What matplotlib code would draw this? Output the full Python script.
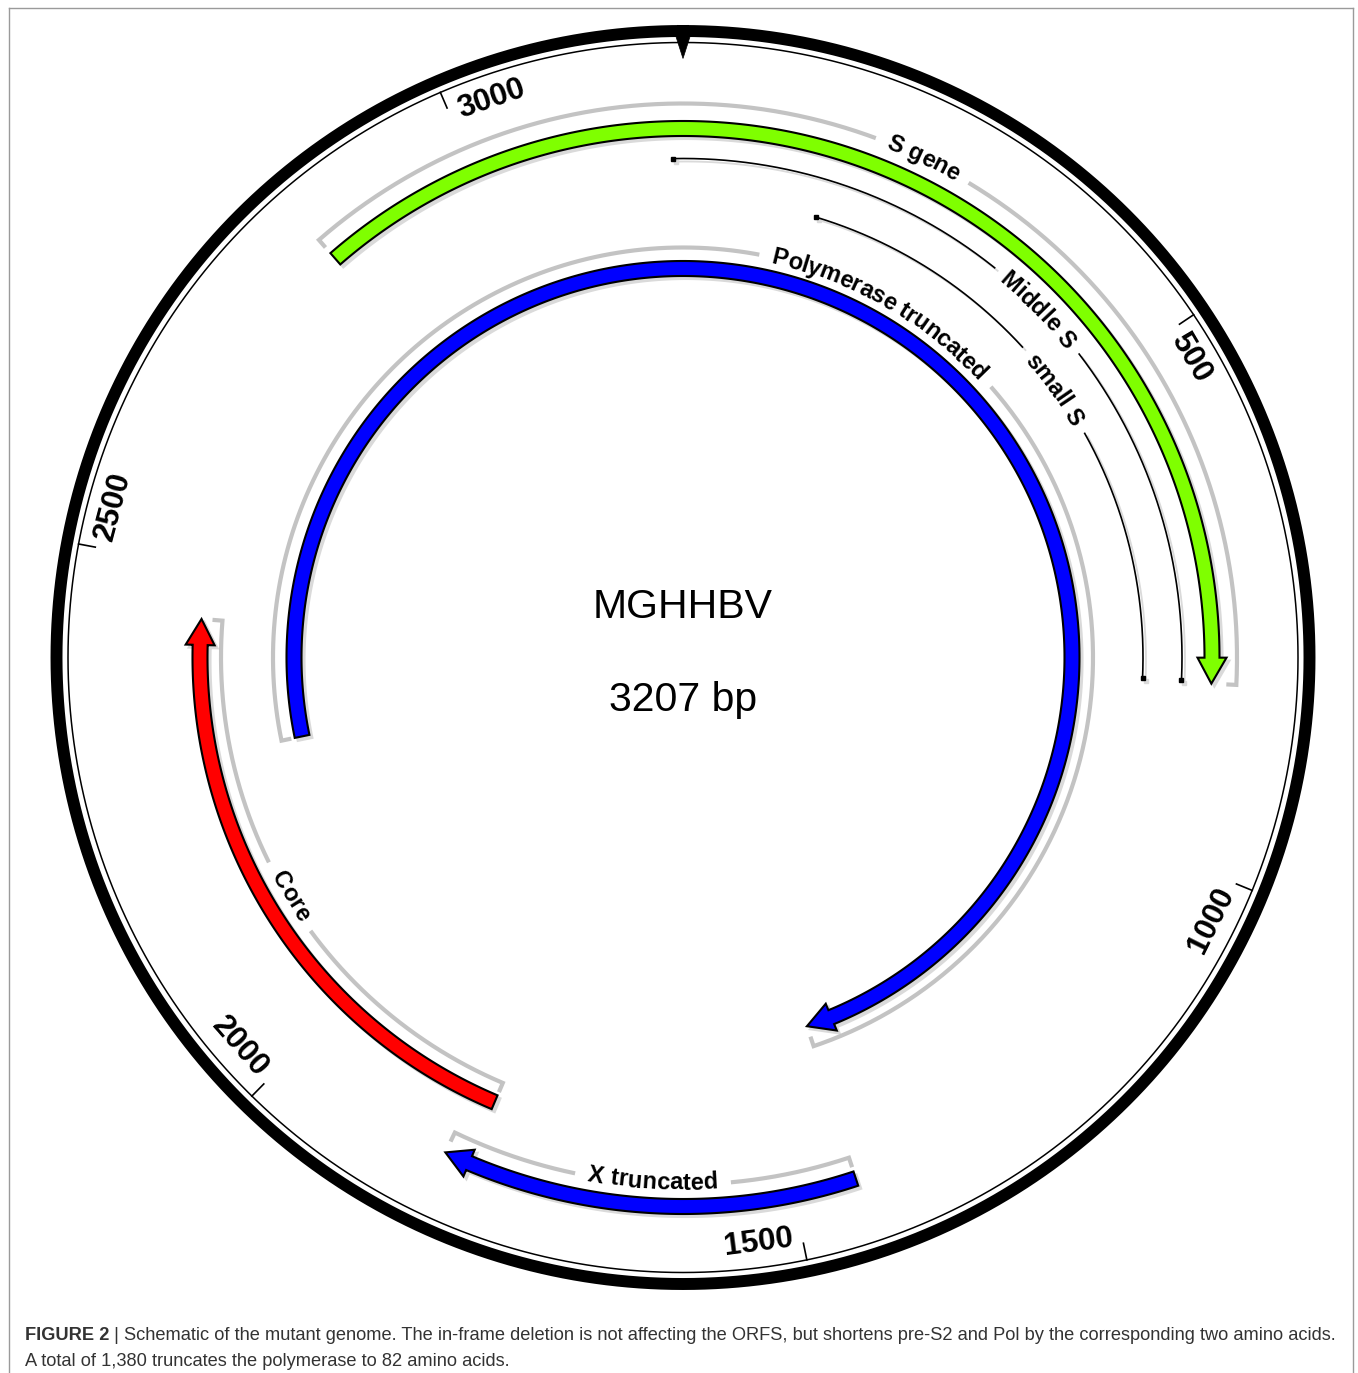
import numpy as np
import matplotlib
matplotlib.use("Agg")
import matplotlib.pyplot as plt
from matplotlib.patches import Polygon
from matplotlib.textpath import TextToPath
from matplotlib.font_manager import FontProperties, fontManager

# ---------------- data ----------------
GENOME_LEN = 3207
TITLE = "MGHHBV"
SUBTITLE = "3207 bp"
TICKS = [500, 1000, 1500, 2000, 2500, 3000]

FEATURE_NAMES = ["S gene", "Polymerase truncated", "X truncated", "Core"]
FEATURE_START = [2841, 2301, 1440, 1808]
FEATURE_END = [827, 1438, 1832, 2446]
FEATURE_COLORS = ["#7fff00", "#0000ff", "#0000ff", "#ff0000"]

LINE_NAMES = ["Middle S", "small S"]
LINE_START = [3197, 150]
LINE_END = [825, 825]

CAPTION_BOLD = "FIGURE 2"
CAPTION_1 = (" | Schematic of the mutant genome. The in-frame deletion is not affecting "
             "the ORFS, but shortens pre-S2 and Pol by the corresponding two amino acids.")
CAPTION_2 = "A total of 1,380 truncates the polymerase to 82 amino acids."

# ---------------- layout ----------------
FEATURE_R = [529, 389, 549, 483]
BRACKET_R = [554, 410, 527, 462]
BRACKET_DIR = [-1, -1, 1, 1]
LABEL_R = [556, 412, 524, 458]
LABEL_TH = [25.7, 29.7, 183.3, 238.7]
LABEL_FLIP = [False, False, True, True]
LINE_R = [499, 460]
LINE_LABEL_TH = [45.6, 54.2]

W, H = 1358, 1373
CX, CY = 683.0, H - 657.5
FONT = "Liberation Sans"
names = {f.name for f in fontManager.ttflist}
CAP_FONT = "Liberation Sans Narrow" if "Liberation Sans Narrow" in names else FONT

fig = plt.figure(figsize=(W / 100, H / 100), dpi=100)
ax = fig.add_axes([0, 0, 1, 1])
ax.set_xlim(0, W)
ax.set_ylim(0, H)
ax.axis("off")

ttp = TextToPath()


def deg(bp):
    return bp / GENOME_LEN * 360.0


def pol(r, th):
    t = np.radians(th)
    return CX + r * np.sin(t), CY + r * np.cos(t)


def span(a, b):
    if b < a:
        b += 360.0
    return a, b


def inside(th, a):
    while th < a:
        th += 360.0
    return th


def tw(s, fp):
    w, h, d = ttp.get_text_width_height_descent(s, fp, ismath=False)
    return w * 100.0 / 72.0


def arc_text(s, r, thc, size, flip=False, weight="bold"):
    fp = FontProperties(family=FONT, weight=weight, size=size)
    total = tw(s, fp)
    em = size * 100.0 / 72.0
    rb = r - 0.34 * em if not flip else r + 0.34 * em
    for i, ch in enumerate(s):
        if ch == " ":
            continue
        c = tw(s[:i + 1], fp) - tw(ch, fp) / 2.0
        off = np.degrees((c - total / 2.0) / r)
        th = thc + off if not flip else thc - off
        x, y = pol(rb, th)
        rot = -th if not flip else 180.0 - th
        ax.text(x, y, ch, fontproperties=fp, rotation=rot, rotation_mode="anchor",
                ha="center", va="baseline", color="black", zorder=10)
    return np.degrees(total / 2.0 / r)


# frame
ax.plot([9, 9], [0, H - 8], color="#9a9a9a", lw=1.0)
ax.plot([1353, 1353], [0, H - 8], color="#9a9a9a", lw=1.0)
ax.plot([9, 1353], [H - 8, H - 8], color="#9a9a9a", lw=1.0)

# outer rings
th_all = np.linspace(0, 360, 1441)
x, y = pol(626.5, th_all)
ax.plot(x, y, color="black", lw=8.6, zorder=5)
x, y = pol(615, th_all)
ax.plot(x, y, color="black", lw=1.1, zorder=5)
tri = [pol(621, -0.65), pol(621, 0.65), pol(599, 0)]
ax.add_patch(Polygon(tri, closed=True, fc="black", ec="black", lw=0.5, zorder=6))

# ticks and labels
tfp = FontProperties(family=FONT, weight="bold", size=22.5)
for t in TICKS:
    th = deg(t)
    x, y = pol(np.array([598, 615]), th)
    ax.plot(x, y, color="black", lw=1.2, zorder=5)
    lab = str(t)
    w = tw(lab, tfp)
    thl = th + np.degrees((w / 2 + 9) / 590)
    flip = 90 < (thl % 360) < 270
    rot = 180 - thl if flip else -thl
    x, y = pol(590, thl)
    ax.text(x, y, lab, fontproperties=tfp, rotation=rot, rotation_mode="anchor",
            ha="center", va="center", zorder=10)

SHADOW = "#dadada"
GRAY = "#c3c3c3"

# arrow features
for name, s, e, col, r, br, bd, lr, lth, lf in zip(
        FEATURE_NAMES, FEATURE_START, FEATURE_END, FEATURE_COLORS, FEATURE_R,
        BRACKET_R, BRACKET_DIR, LABEL_R, LABEL_TH, LABEL_FLIP):
    a, b = span(deg(s), deg(e))
    lth = inside(lth, a)
    w, hw, hl = 15.0, 29.0, 26.0
    base = b - np.degrees(hl / r)
    th = np.linspace(a, base, 400)
    xo, yo = pol(r + w / 2, th)
    xi, yi = pol(r - w / 2, th[::-1])
    h1 = pol(r + hw / 2, base)
    h2 = pol(r, b)
    h3 = pol(r - hw / 2, base)
    xs = np.concatenate([xo, [h1[0], h2[0], h3[0]], xi])
    ys = np.concatenate([yo, [h1[1], h2[1], h3[1]], yi])
    ax.add_patch(Polygon(np.c_[xs + 3, ys - 3], closed=True, fc=SHADOW, ec=SHADOW,
                         lw=1.5, zorder=2))
    ax.add_patch(Polygon(np.c_[xs, ys], closed=True, fc=col, ec="black", lw=1.5,
                         joinstyle="miter", zorder=4))
    # label
    half = arc_text(name, lr, lth, 17, flip=lf)
    pad = np.degrees(13.0 / br)
    g1, g2 = lth - half - pad, lth + half + pad
    # bracket
    cap = 10.0
    t1 = np.linspace(a, g1, 200)
    x1, y1 = pol(br, t1)
    c0 = pol(br + bd * cap, a)
    x1 = np.concatenate([[c0[0]], x1])
    y1 = np.concatenate([[c0[1]], y1])
    t2 = np.linspace(g2, b, 300)
    x2, y2 = pol(br, t2)
    c1 = pol(br + bd * cap, b)
    x2 = np.concatenate([x2, [c1[0]]])
    y2 = np.concatenate([y2, [c1[1]]])
    for xx, yy in ((x1, y1), (x2, y2)):
        ax.plot(xx, yy, color=GRAY, lw=3.0, solid_capstyle="butt",
                solid_joinstyle="miter", zorder=3)

# thin line features
for name, s, e, r, lth in zip(LINE_NAMES, LINE_START, LINE_END, LINE_R, LINE_LABEL_TH):
    a, b = span(deg(s), deg(e))
    lth = inside(lth, a)
    half = arc_text(name, r, lth, 17)
    pad = np.degrees(12.0 / r)
    for t0, t1 in ((a, lth - half - pad), (lth + half + pad, b)):
        tt = np.linspace(t0, t1, 300)
        xx, yy = pol(r, tt)
        ax.plot(xx + 3, yy - 3, color=SHADOW, lw=1.3, zorder=2)
        ax.plot(xx, yy, color="black", lw=1.2, zorder=4)
    for tt in (a, b):
        xx, yy = pol(r, tt)
        ax.plot([xx + 3], [yy - 3], "s", ms=3.4, color=SHADOW, zorder=2)
        ax.plot([xx], [yy], "s", ms=3.2, color="black", zorder=5)

# centre text
ax.text(CX, H - 607, TITLE, family=FONT, size=29.5, ha="center", va="center")
ax.text(CX, H - 700, SUBTITLE, family=FONT, size=29.5, ha="center", va="center")

# caption
capcol = "#333333"
size0 = 14.0
tb = ax.text(25, H - 1340, CAPTION_BOLD, family=CAP_FONT, weight="bold", size=size0,
             color=capcol, ha="left", va="baseline")
tr = ax.text(100, H - 1340, CAPTION_1, family=CAP_FONT, size=size0, color=capcol,
             ha="left", va="baseline")
t2 = ax.text(25, H - 1366, CAPTION_2, family=CAP_FONT, size=size0, color=capcol,
             ha="left", va="baseline")
fig.canvas.draw()
rend = fig.canvas.get_renderer()
wtot = tb.get_window_extent(rend).width + tr.get_window_extent(rend).width
size1 = size0 * 1316.0 / wtot
for t in (tb, tr, t2):
    t.set_fontsize(size1)
fig.canvas.draw()
wb = tb.get_window_extent(rend).width
tr.set_x(25 + wb)

fig.savefig("out.png", dpi=100)
